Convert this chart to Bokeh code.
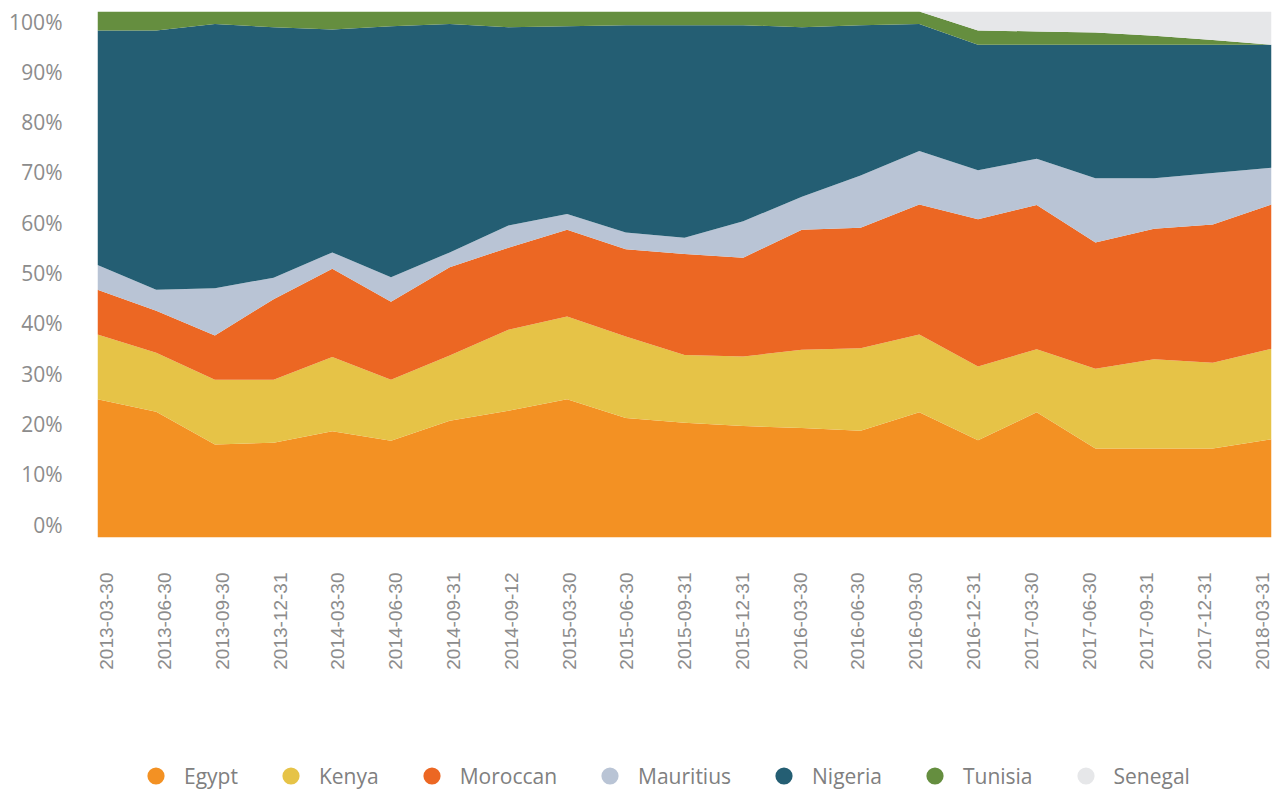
import math
from bokeh.plotting import figure
from bokeh.layouts import column
from bokeh.models import (Range1d, LinearAxis, FixedTicker, Legend, LegendItem,
                          ColumnDataSource, PrintfTickFormatter)
from bokeh.embed import file_html
from bokeh.resources import INLINE

dates = ["2013-03-30", "2013-06-30", "2013-09-30", "2013-12-31", "2014-03-30",
         "2014-06-30", "2014-09-31", "2014-09-12", "2015-03-30", "2015-06-30",
         "2015-09-31", "2015-12-31", "2016-03-30", "2016-06-30", "2016-09-30",
         "2016-12-31", "2017-03-30", "2017-06-30", "2017-09-31", "2017-12-31",
         "2018-03-31"]

egypt     = [26.3, 23.9, 17.7, 18.0, 20.2, 18.4, 22.2, 24.1, 26.3, 22.7, 21.8,
             21.2, 20.8, 20.3, 23.8, 18.5, 23.8, 16.9, 16.9, 16.9, 18.7]
kenya     = [12.3, 11.2, 12.3, 12.0, 14.1, 11.6, 12.4, 15.4, 15.7, 15.5, 12.9,
             13.2, 14.9, 15.7, 14.8, 14.0, 12.0, 15.2, 17.0, 16.3, 17.2]
moroccan  = [8.5, 8.0, 8.4, 15.3, 16.8, 14.8, 16.8, 15.6, 16.5, 16.6, 19.2,
             18.8, 22.8, 22.9, 24.7, 28.0, 27.4, 24.0, 24.8, 26.3, 27.4]
mauritius = [4.7, 4.0, 9.0, 4.1, 3.1, 4.7, 2.8, 4.2, 3.0, 3.2, 3.1,
             6.9, 6.3, 9.9, 10.2, 9.3, 8.8, 12.2, 9.6, 9.8, 7.0]
nigeria   = [44.6, 49.3, 50.2, 47.6, 42.4, 47.7, 43.4, 37.7, 35.7, 39.4, 40.4,
             37.3, 32.2, 28.6, 24.1, 23.9, 21.7, 25.4, 25.4, 24.4, 23.4]
tunisia   = [3.6, 3.6, 2.4, 3.0, 3.4, 2.8, 2.4, 3.0, 2.8, 2.6, 2.6,
             2.6, 3.0, 2.6, 2.4, 2.7, 2.5, 2.3, 1.7, 0.9, 0.0]
senegal   = [0.0, 0.0, 0.0, 0.0, 0.0, 0.0, 0.0, 0.0, 0.0, 0.0, 0.0,
             0.0, 0.0, 0.0, 0.0, 3.6, 3.8, 4.0, 4.6, 5.4, 6.3]

series = ["Egypt", "Kenya", "Moroccan", "Mauritius", "Nigeria", "Tunisia", "Senegal"]
colors = ["#F39123", "#E6C347", "#EC6723", "#B9C4D5", "#245E73", "#658E3F", "#E6E7E9"]
y_ticks = [0, 10, 20, 30, 40, 50, 60, 70, 80, 90, 100]

xs = list(range(len(dates)))
src = ColumnDataSource(dict(x=xs, Egypt=egypt, Kenya=kenya, Moroccan=moroccan,
                            Mauritius=mauritius, Nigeria=nigeria, Tunisia=tunisia,
                            Senegal=senegal))

p = figure(width=1277, height=700, x_range=Range1d(0, len(dates) - 1),
           y_range=Range1d(0, 100), output_backend="svg", toolbar_location=None,
           x_axis_type=None, y_axis_type=None,
           min_border_left=97, min_border_right=6, min_border_top=11,
           min_border_bottom=163)
p.outline_line_color = None

p.varea_stack(stackers=series, x="x", color=colors, source=src)

# axis ranges (labels sit slightly offset relative to the data, as in the reference)
p.extra_y_ranges = {"lab": Range1d(-2.525, 101.988)}
p.extra_x_ranges = {"xlab": Range1d(-0.161, 20.156)}

yaxis = LinearAxis(y_range_name="lab", ticker=FixedTicker(ticks=y_ticks),
                   formatter=PrintfTickFormatter(format="%d%%"))
yaxis.axis_line_color = None
yaxis.major_tick_line_color = None
yaxis.minor_tick_line_color = None
yaxis.major_tick_out = 0
yaxis.major_tick_in = 0
yaxis.major_label_standoff = 35
yaxis.major_label_text_font = "Open Sans"
yaxis.major_label_text_font_size = "21px"
yaxis.major_label_text_color = "#8c8c8c"
p.add_layout(yaxis, "left")

xaxis = LinearAxis(x_range_name="xlab", ticker=FixedTicker(ticks=xs),
                   major_label_overrides={i: d for i, d in enumerate(dates)})
xaxis.major_label_orientation = math.pi / 2
xaxis.axis_line_color = None
xaxis.major_tick_line_color = None
xaxis.minor_tick_line_color = None
xaxis.major_tick_out = 0
xaxis.major_tick_in = 0
xaxis.major_label_standoff = 35
xaxis.major_label_text_font = "Liberation Sans"
xaxis.major_label_text_font_size = "19px"
xaxis.major_label_text_color = "#8c8c8c"
p.add_layout(xaxis, "below")

# legend figure (proxy markers sit outside the visible range)
lf = figure(width=1277, height=89, x_range=Range1d(0, 1), y_range=Range1d(0, 1),
            output_backend="svg", toolbar_location=None,
            x_axis_type=None, y_axis_type=None,
            min_border_left=0, min_border_right=0, min_border_top=0,
            min_border_bottom=0)
lf.outline_line_color = None

proxy = ColumnDataSource(dict(x=[-5], y=[-5]))
items = []
for name, c in zip(series, colors):
    r = lf.scatter(x="x", y="y", source=proxy, marker="circle", size=17,
                   fill_color=c, line_color=None)
    items.append(LegendItem(label=name, renderers=[r]))

legend = Legend(items=items, orientation="horizontal", location=(37, -8),
                glyph_width=43, glyph_height=43, label_standoff=7, spacing=31,
                padding=0, margin=0, border_line_color=None,
                background_fill_alpha=0, label_text_font="Open Sans",
                label_text_font_size="21px", label_text_color="#808080")
lf.add_layout(legend)

layout = column(p, lf, spacing=0)
open("out.html", "w").write(file_html(layout, INLINE))
